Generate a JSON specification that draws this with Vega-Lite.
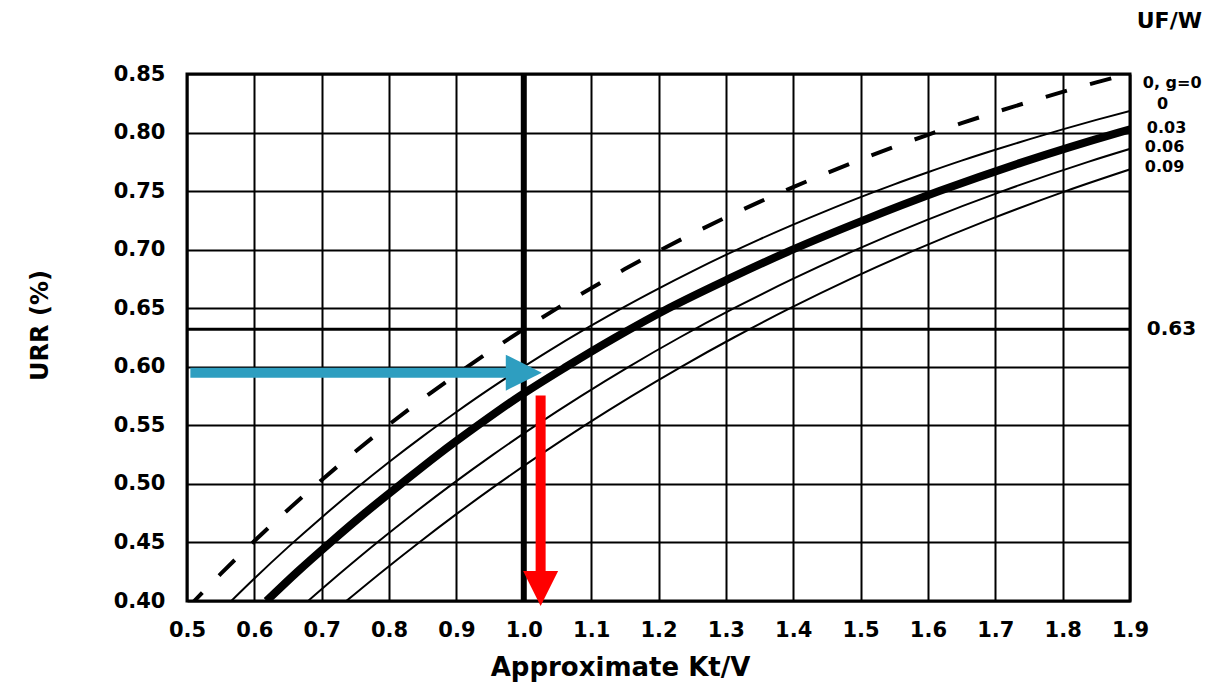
{
  "$schema": "https://vega.github.io/schema/vega-lite/v6.json",
  "width": 943,
  "height": 527,
  "autosize": {"type": "none"},
  "padding": {"left": 187, "top": 74, "right": 92, "bottom": 88},
  "background": "white",
  "config": {
    "view": {"stroke": "#000", "strokeWidth": 3},
    "font": "DejaVu Sans",
    "axis": {
      "grid": true, "gridColor": "#000", "gridWidth": 2, "gridOpacity": 1,
      "domain": false, "ticks": false, "labelFlush": false,
      "labelFont": "DejaVu Sans", "labelFontWeight": "bold", "labelFontSize": 21, "labelColor": "#000",
      "titleFont": "DejaVu Sans", "titleFontWeight": "bold", "titleColor": "#000"
    }
  },
  "datasets": {
    "curves": [
      {"series": "0, g=0", "kt": 0.5, "urr": 0.3935},
      {"series": "0, g=0", "kt": 0.55, "urr": 0.4231},
      {"series": "0, g=0", "kt": 0.6, "urr": 0.4512},
      {"series": "0, g=0", "kt": 0.65, "urr": 0.478},
      {"series": "0, g=0", "kt": 0.7, "urr": 0.5034},
      {"series": "0, g=0", "kt": 0.75, "urr": 0.5276},
      {"series": "0, g=0", "kt": 0.8, "urr": 0.5507},
      {"series": "0, g=0", "kt": 0.85, "urr": 0.5726},
      {"series": "0, g=0", "kt": 0.9, "urr": 0.5934},
      {"series": "0, g=0", "kt": 0.95, "urr": 0.6133},
      {"series": "0, g=0", "kt": 1.0, "urr": 0.6321},
      {"series": "0, g=0", "kt": 1.05, "urr": 0.6501},
      {"series": "0, g=0", "kt": 1.1, "urr": 0.6671},
      {"series": "0, g=0", "kt": 1.15, "urr": 0.6834},
      {"series": "0, g=0", "kt": 1.2, "urr": 0.6988},
      {"series": "0, g=0", "kt": 1.25, "urr": 0.7135},
      {"series": "0, g=0", "kt": 1.3, "urr": 0.7275},
      {"series": "0, g=0", "kt": 1.35, "urr": 0.7408},
      {"series": "0, g=0", "kt": 1.4, "urr": 0.7534},
      {"series": "0, g=0", "kt": 1.45, "urr": 0.7654},
      {"series": "0, g=0", "kt": 1.5, "urr": 0.7769},
      {"series": "0, g=0", "kt": 1.55, "urr": 0.7878},
      {"series": "0, g=0", "kt": 1.6, "urr": 0.7981},
      {"series": "0, g=0", "kt": 1.65, "urr": 0.808},
      {"series": "0, g=0", "kt": 1.7, "urr": 0.8173},
      {"series": "0, g=0", "kt": 1.75, "urr": 0.8262},
      {"series": "0, g=0", "kt": 1.8, "urr": 0.8347},
      {"series": "0, g=0", "kt": 1.85, "urr": 0.8428},
      {"series": "0, g=0", "kt": 1.9, "urr": 0.8504},

      {"series": "0", "kt": 0.55, "urr": 0.3911},
      {"series": "0", "kt": 0.6, "urr": 0.4192},
      {"series": "0", "kt": 0.65, "urr": 0.446},
      {"series": "0", "kt": 0.7, "urr": 0.4714},
      {"series": "0", "kt": 0.75, "urr": 0.4956},
      {"series": "0", "kt": 0.8, "urr": 0.5187},
      {"series": "0", "kt": 0.85, "urr": 0.5406},
      {"series": "0", "kt": 0.9, "urr": 0.5614},
      {"series": "0", "kt": 0.95, "urr": 0.5813},
      {"series": "0", "kt": 1.0, "urr": 0.6001},
      {"series": "0", "kt": 1.05, "urr": 0.6181},
      {"series": "0", "kt": 1.1, "urr": 0.6351},
      {"series": "0", "kt": 1.15, "urr": 0.6514},
      {"series": "0", "kt": 1.2, "urr": 0.6668},
      {"series": "0", "kt": 1.25, "urr": 0.6815},
      {"series": "0", "kt": 1.3, "urr": 0.6955},
      {"series": "0", "kt": 1.35, "urr": 0.7088},
      {"series": "0", "kt": 1.4, "urr": 0.7214},
      {"series": "0", "kt": 1.45, "urr": 0.7334},
      {"series": "0", "kt": 1.5, "urr": 0.7449},
      {"series": "0", "kt": 1.55, "urr": 0.7558},
      {"series": "0", "kt": 1.6, "urr": 0.7661},
      {"series": "0", "kt": 1.65, "urr": 0.776},
      {"series": "0", "kt": 1.7, "urr": 0.7853},
      {"series": "0", "kt": 1.75, "urr": 0.7942},
      {"series": "0", "kt": 1.8, "urr": 0.8027},
      {"series": "0", "kt": 1.85, "urr": 0.8108},
      {"series": "0", "kt": 1.9, "urr": 0.8184},

      {"series": "0.03", "kt": 0.618, "urr": 0.4},
      {"series": "0.03", "kt": 0.664, "urr": 0.425},
      {"series": "0.03", "kt": 0.713, "urr": 0.45},
      {"series": "0.03", "kt": 0.764, "urr": 0.475},
      {"series": "0.03", "kt": 0.818, "urr": 0.5},
      {"series": "0.03", "kt": 0.873, "urr": 0.525},
      {"series": "0.03", "kt": 0.932, "urr": 0.55},
      {"series": "0.03", "kt": 0.994, "urr": 0.575},
      {"series": "0.03", "kt": 1.063, "urr": 0.6},
      {"series": "0.03", "kt": 1.136, "urr": 0.625},
      {"series": "0.03", "kt": 1.215, "urr": 0.65},
      {"series": "0.03", "kt": 1.304, "urr": 0.675},
      {"series": "0.03", "kt": 1.399, "urr": 0.7},
      {"series": "0.03", "kt": 1.504, "urr": 0.725},
      {"series": "0.03", "kt": 1.617, "urr": 0.75},
      {"series": "0.03", "kt": 1.742, "urr": 0.775},
      {"series": "0.03", "kt": 1.883, "urr": 0.8},
      {"series": "0.03", "kt": 1.945, "urr": 0.81},

      {"series": "0.06", "kt": 0.6796, "urr": 0.4},
      {"series": "0.06", "kt": 0.73, "urr": 0.425},
      {"series": "0.06", "kt": 0.7823, "urr": 0.45},
      {"series": "0.06", "kt": 0.8371, "urr": 0.475},
      {"series": "0.06", "kt": 0.8943, "urr": 0.5},
      {"series": "0.06", "kt": 0.9545, "urr": 0.525},
      {"series": "0.06", "kt": 1.0178, "urr": 0.55},
      {"series": "0.06", "kt": 1.0848, "urr": 0.575},
      {"series": "0.06", "kt": 1.1557, "urr": 0.6},
      {"series": "0.06", "kt": 1.2313, "urr": 0.625},
      {"series": "0.06", "kt": 1.3122, "urr": 0.65},
      {"series": "0.06", "kt": 1.3994, "urr": 0.675},
      {"series": "0.06", "kt": 1.4938, "urr": 0.7},
      {"series": "0.06", "kt": 1.597, "urr": 0.725},
      {"series": "0.06", "kt": 1.7108, "urr": 0.75},
      {"series": "0.06", "kt": 1.8379, "urr": 0.775},
      {"series": "0.06", "kt": 1.9818, "urr": 0.8},

      {"series": "0.09", "kt": 0.7366, "urr": 0.4},
      {"series": "0.09", "kt": 0.7896, "urr": 0.425},
      {"series": "0.09", "kt": 0.8446, "urr": 0.45},
      {"series": "0.09", "kt": 0.9019, "urr": 0.475},
      {"series": "0.09", "kt": 0.9618, "urr": 0.5},
      {"series": "0.09", "kt": 1.0246, "urr": 0.525},
      {"series": "0.09", "kt": 1.0906, "urr": 0.55},
      {"series": "0.09", "kt": 1.1601, "urr": 0.575},
      {"series": "0.09", "kt": 1.2337, "urr": 0.6},
      {"series": "0.09", "kt": 1.3119, "urr": 0.625},
      {"series": "0.09", "kt": 1.3955, "urr": 0.65},
      {"series": "0.09", "kt": 1.4852, "urr": 0.675},
      {"series": "0.09", "kt": 1.5823, "urr": 0.7},
      {"series": "0.09", "kt": 1.6881, "urr": 0.725},
      {"series": "0.09", "kt": 1.8046, "urr": 0.75},
      {"series": "0.09", "kt": 1.9342, "urr": 0.775}
    ],
    "notes": [
      {"group": "curve", "text": "0, g=0", "kt": 1.919, "urr": 0.842},
      {"group": "curve", "text": "0", "kt": 1.94, "urr": 0.824},
      {"group": "curve", "text": "0.03", "kt": 1.925, "urr": 0.804},
      {"group": "curve", "text": "0.06", "kt": 1.922, "urr": 0.788},
      {"group": "curve", "text": "0.09", "kt": 1.922, "urr": 0.771},
      {"group": "ref", "text": "0.63", "kt": 1.925, "urr": 0.6326},
      {"group": "head", "text": "UF/W", "kt": 1.91, "urr": 0.895}
    ],
    "refs": [{"kt": 1.0, "urr": 0.632}],
    "blue": [{"kt": 0.505, "kt2": 0.98, "urr": 0.595, "headKt": 1.0}],
    "red": [{"kt": 1.025, "urr": 0.5755, "urr2": 0.42, "headUrr": 0.4107}]
  },
  "layer": [
    {
      "data": {"name": "curves"},
      "transform": [{"filter": "datum.series === '0, g=0'"}],
      "mark": {"type": "line", "color": "#000", "strokeWidth": 4, "strokeDash": [22, 24], "clip": true, "interpolate": "monotone"},
      "encoding": {
        "x": {"field": "kt", "type": "quantitative", "scale": {"domain": [0.5, 1.9], "nice": false, "zero": false},
              "axis": {"values": [0.5,0.6,0.7,0.8,0.9,1.0,1.1,1.2,1.3,1.4,1.5,1.6,1.7,1.8,1.9], "format": ".1f", "labelPadding": 18,
                       "title": "Approximate Kt/V", "titleFontSize": 26, "titleX": 433, "titleY": 66, "titleBaseline": "middle", "titleAlign": "center"}},
        "y": {"field": "urr", "type": "quantitative", "scale": {"domain": [0.4, 0.85], "nice": false, "zero": false},
              "axis": {"values": [0.4,0.45,0.5,0.55,0.6,0.65,0.7,0.75,0.8,0.85], "format": ".2f", "labelPadding": 22,
                       "title": "URR (%)", "titleFontSize": 24, "titleX": -147, "titleY": 251, "titleBaseline": "middle", "titleAlign": "center"}}
      }
    },
    {
      "data": {"name": "curves"},
      "transform": [{"filter": {"field": "series", "oneOf": ["0", "0.06", "0.09"]}}],
      "mark": {"type": "line", "color": "#000", "strokeWidth": 2, "clip": true, "interpolate": "monotone"},
      "encoding": {
        "x": {"field": "kt", "type": "quantitative"},
        "y": {"field": "urr", "type": "quantitative"},
        "detail": {"field": "series"}
      }
    },
    {
      "data": {"name": "curves"},
      "transform": [{"filter": "datum.series === '0.03'"}],
      "mark": {"type": "line", "color": "#000", "strokeWidth": 8, "clip": true, "interpolate": "monotone"},
      "encoding": {
        "x": {"field": "kt", "type": "quantitative"},
        "y": {"field": "urr", "type": "quantitative"}
      }
    },
    {
      "data": {"name": "refs"},
      "mark": {"type": "rule", "color": "#000", "strokeWidth": 6},
      "encoding": {"x": {"field": "kt", "type": "quantitative"}}
    },
    {
      "data": {"name": "refs"},
      "mark": {"type": "rule", "color": "#000", "strokeWidth": 3},
      "encoding": {"y": {"field": "urr", "type": "quantitative"}}
    },
    {
      "data": {"name": "blue"},
      "mark": {"type": "rule", "color": "#2E9EC0", "strokeWidth": 10},
      "encoding": {
        "x": {"field": "kt", "type": "quantitative"},
        "x2": {"field": "kt2"},
        "y": {"field": "urr", "type": "quantitative"}
      }
    },
    {
      "data": {"name": "blue"},
      "mark": {"type": "point", "shape": "M-1,-1L1,0L-1,1Z", "filled": true, "color": "#2E9EC0", "opacity": 1, "size": 1296},
      "encoding": {
        "x": {"field": "headKt", "type": "quantitative"},
        "y": {"field": "urr", "type": "quantitative"}
      }
    },
    {
      "data": {"name": "red"},
      "mark": {"type": "rule", "color": "#FF0000", "strokeWidth": 10},
      "encoding": {
        "x": {"field": "kt", "type": "quantitative"},
        "y": {"field": "urr", "type": "quantitative"},
        "y2": {"field": "urr2"}
      }
    },
    {
      "data": {"name": "red"},
      "mark": {"type": "point", "shape": "M-1,-1L1,-1L0,1Z", "filled": true, "color": "#FF0000", "opacity": 1, "size": 1225},
      "encoding": {
        "x": {"field": "kt", "type": "quantitative"},
        "y": {"field": "headUrr", "type": "quantitative"}
      }
    },
    {
      "data": {"name": "notes"},
      "transform": [{"filter": "datum.group === 'curve'"}],
      "mark": {"type": "text", "align": "left", "baseline": "middle", "font": "DejaVu Sans", "fontWeight": "bold", "fontSize": 16, "color": "#000"},
      "encoding": {
        "x": {"field": "kt", "type": "quantitative"},
        "y": {"field": "urr", "type": "quantitative"},
        "text": {"field": "text"}
      }
    },
    {
      "data": {"name": "notes"},
      "transform": [{"filter": "datum.group === 'ref'"}],
      "mark": {"type": "text", "align": "left", "baseline": "middle", "font": "DejaVu Sans", "fontWeight": "bold", "fontSize": 20, "color": "#000"},
      "encoding": {
        "x": {"field": "kt", "type": "quantitative"},
        "y": {"field": "urr", "type": "quantitative"},
        "text": {"field": "text"}
      }
    },
    {
      "data": {"name": "notes"},
      "transform": [{"filter": "datum.group === 'head'"}],
      "mark": {"type": "text", "align": "left", "baseline": "middle", "font": "DejaVu Sans", "fontWeight": "bold", "fontSize": 22, "color": "#000"},
      "encoding": {
        "x": {"field": "kt", "type": "quantitative"},
        "y": {"field": "urr", "type": "quantitative"},
        "text": {"field": "text"}
      }
    }
  ]
}
